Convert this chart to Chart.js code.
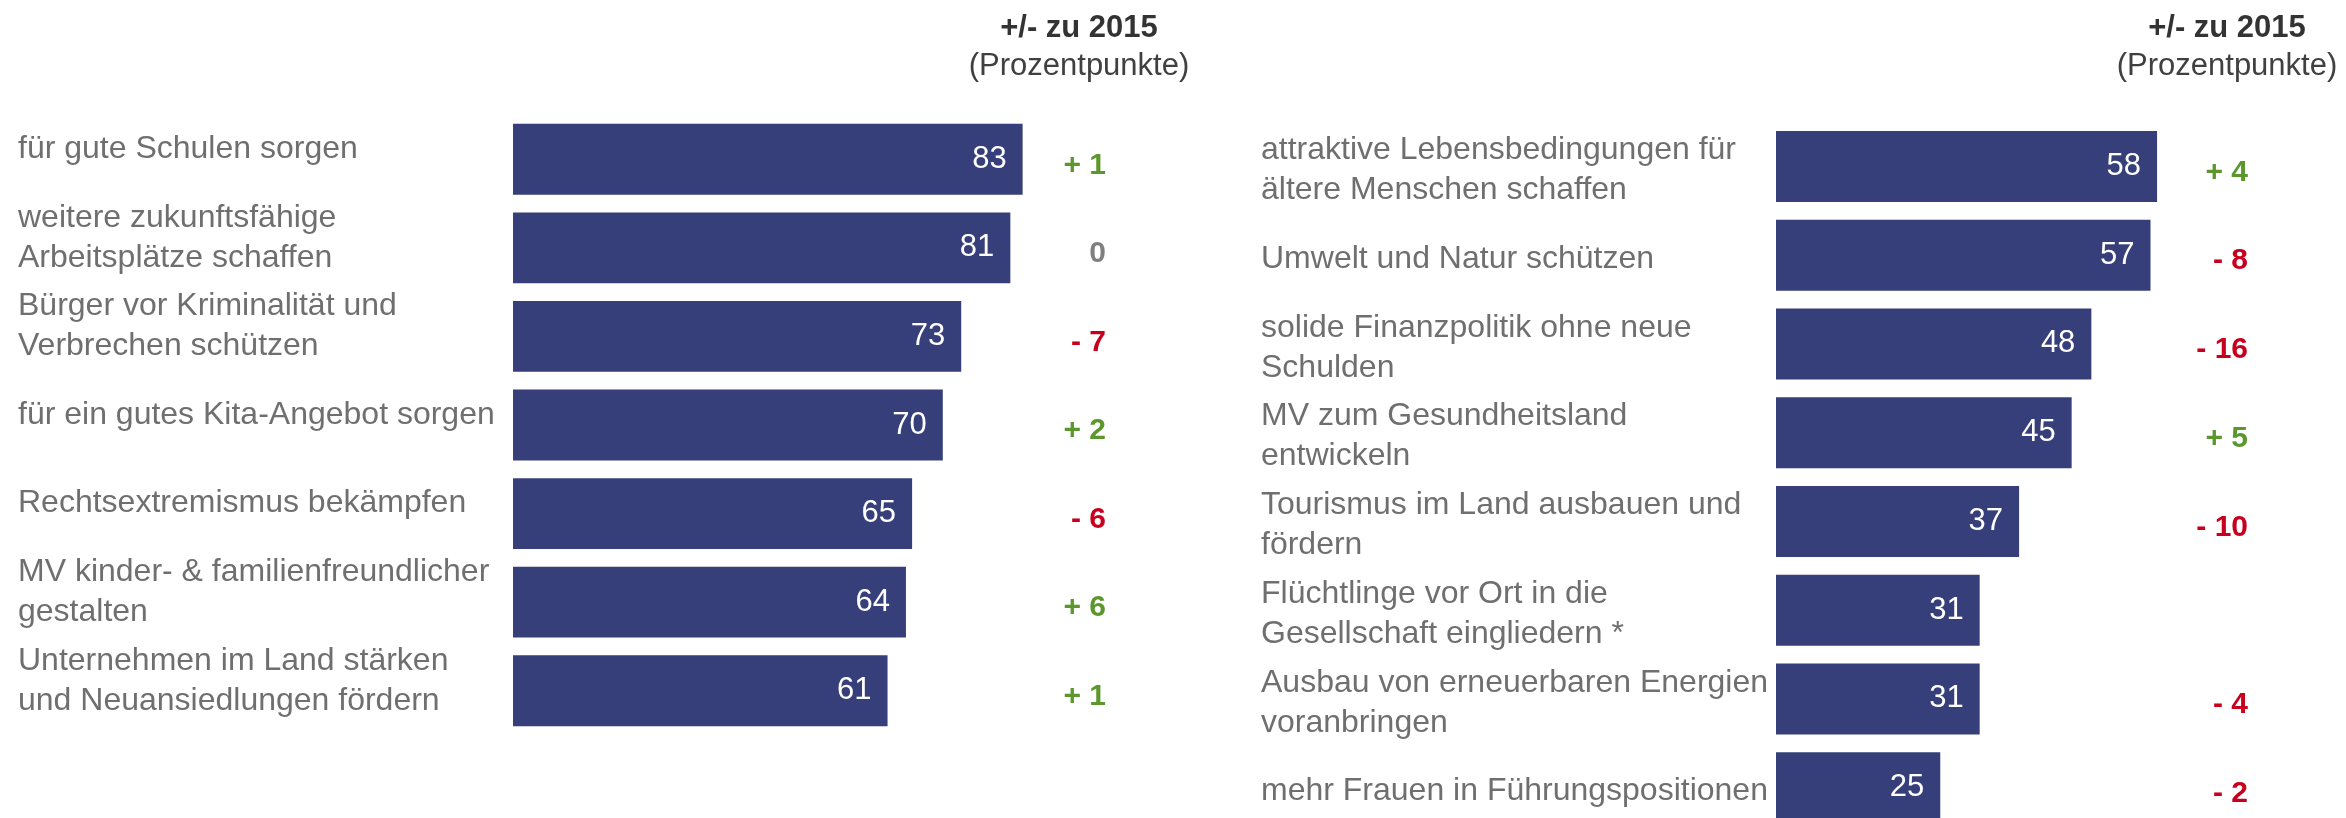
<!DOCTYPE html>
<html lang="de">
<head>
<meta charset="utf-8">
<title>Aufgaben der Landespolitik</title>
<script src="https://cdn.jsdelivr.net/npm/chart.js@4"></script>
<style>
  body { margin: 0; background: #fff; }
  #page { position: relative; width: 2346px; height: 818px; overflow: hidden; background: #fff; }
  #leftBox { position: absolute; left: 0; top: 0; }
  #rightBox { position: absolute; left: 1180px; top: 0; }
</style>
</head>
<body>
<div id="page">
  <div id="leftBox"><canvas id="leftChart" width="1230" height="818"></canvas></div>
  <div id="rightBox"><canvas id="rightChart" width="1166" height="880"></canvas></div>
</div>
<script>
let leftLabels = [
    "für gute Schulen sorgen",
    ["weitere zukunftsfähige", "Arbeitsplätze schaffen"],
    ["Bürger vor Kriminalität und", "Verbrechen schützen"],
    "für ein gutes Kita-Angebot sorgen",
    "Rechtsextremismus bekämpfen",
    ["MV kinder- & familienfreundlicher", "gestalten"],
    ["Unternehmen im Land stärken", "und Neuansiedlungen fördern"]
];
let leftValues = [83, 81, 73, 70, 65, 64, 61];
let leftChanges = [1, 0, -7, 2, -6, 6, 1];

let rightLabels = [
    ["attraktive Lebensbedingungen für", "ältere Menschen schaffen"],
    "Umwelt und Natur schützen",
    ["solide Finanzpolitik ohne neue", "Schulden"],
    ["MV zum Gesundheitsland", "entwickeln"],
    ["Tourismus im Land ausbauen und", "fördern"],
    ["Flüchtlinge vor Ort in die", "Gesellschaft eingliedern *"],
    ["Ausbau von erneuerbaren Energien", "voranbringen"],
    "mehr Frauen in Führungspositionen"
];
let rightValues = [58, 57, 48, 45, 37, 31, 31, 25];
let rightChanges = [4, -8, -16, 5, -10, null, -4, -2];

let headerTitle = "+/- zu 2015";
let headerUnit = "(Prozentpunkte)";

const fontFamily = '"Liberation Sans", Arial, sans-serif';
const barColor = '#373f7a';
const labelColor = '#6f6f6f';
const plusColor = '#5b972c';
const minusColor = '#c8001e';
const zeroColor = '#7f7f7f';

function changeText(v) {
    if (v === null) return "";
    if (v > 0) return "+ " + v;
    if (v < 0) return "- " + Math.abs(v);
    return "0";
}

function changeColor(v) {
    if (v > 0) return plusColor;
    if (v < 0) return minusColor;
    return zeroColor;
}

function makeOverlay(changes, changeX, headerX) {
    return {
        id: 'overlay',
        afterDatasetsDraw(chart) {
            let ctx = chart.ctx;
            let yScale = chart.scales.y;
            let values = chart.data.datasets[0].data;
            ctx.save();

            // Werte in den Balken
            ctx.font = '31px ' + fontFamily;
            ctx.fillStyle = '#ffffff';
            ctx.textAlign = 'right';
            ctx.textBaseline = 'middle';
            chart.getDatasetMeta(0).data.forEach((bar, i) => {
                ctx.fillText(values[i], bar.x - 16, bar.y);
            });

            // Veränderung zu 2015
            ctx.font = 'bold 30px ' + fontFamily;
            changes.forEach((v, i) => {
                ctx.fillStyle = changeColor(v);
                ctx.fillText(changeText(v), changeX, yScale.getPixelForValue(i) + 6);
            });

            // Spaltenkopf
            ctx.textAlign = 'center';
            ctx.textBaseline = 'alphabetic';
            ctx.fillStyle = '#333333';
            ctx.font = 'bold 31px ' + fontFamily;
            ctx.fillText(headerTitle, headerX, 37);
            ctx.fillStyle = '#404040';
            ctx.font = '31px ' + fontFamily;
            ctx.fillText(headerUnit, headerX, 75);
            ctx.restore();
        }
    };
}

function buildChart(canvasId, labels, values, changes, opts) {
    let ctx = document.getElementById(canvasId).getContext('2d');
    return new Chart(ctx, {
        type: 'bar',
        data: {
            labels: labels,
            datasets: [{
                data: values,
                backgroundColor: barColor,
                categoryPercentage: 1,
                barPercentage: 0.8
            }]
        },
        options: {
            indexAxis: 'y',
            responsive: false,
            animation: false,
            layout: { padding: opts.padding },
            scales: {
                x: { display: false, min: 0, max: opts.xMax },
                y: {
                    border: { display: false },
                    grid: { display: false },
                    ticks: {
                        autoSkip: false,
                        crossAlign: 'far',
                        labelOffset: opts.labelOffset,
                        color: labelColor,
                        font: { family: fontFamily, size: 32, lineHeight: 1.25 }
                    },
                    afterFit: (scale) => { scale.width = opts.axisWidth; }
                }
            },
            plugins: {
                legend: { display: false },
                tooltip: { enabled: false }
            }
        },
        plugins: [makeOverlay(changes, opts.changeX, opts.headerX)]
    });
}

buildChart('leftChart', leftLabels, leftValues, leftChanges, {
    padding: { left: 18, right: 103, top: 115, bottom: 83 },
    axisWidth: 495,
    xMax: 100,
    labelOffset: -10,
    changeX: 1106,
    headerX: 1079
});

// rechte Seite ist unten angeschnitten, daher höhere Zeichenfläche
buildChart('rightChart', rightLabels, rightValues, rightChanges, {
    padding: { left: 81, right: 44.4, top: 122, bottom: 48 },
    axisWidth: 515,
    xMax: 80,
    labelOffset: 4,
    changeX: 1068,
    headerX: 1047
});
</script>
</body>
</html>
